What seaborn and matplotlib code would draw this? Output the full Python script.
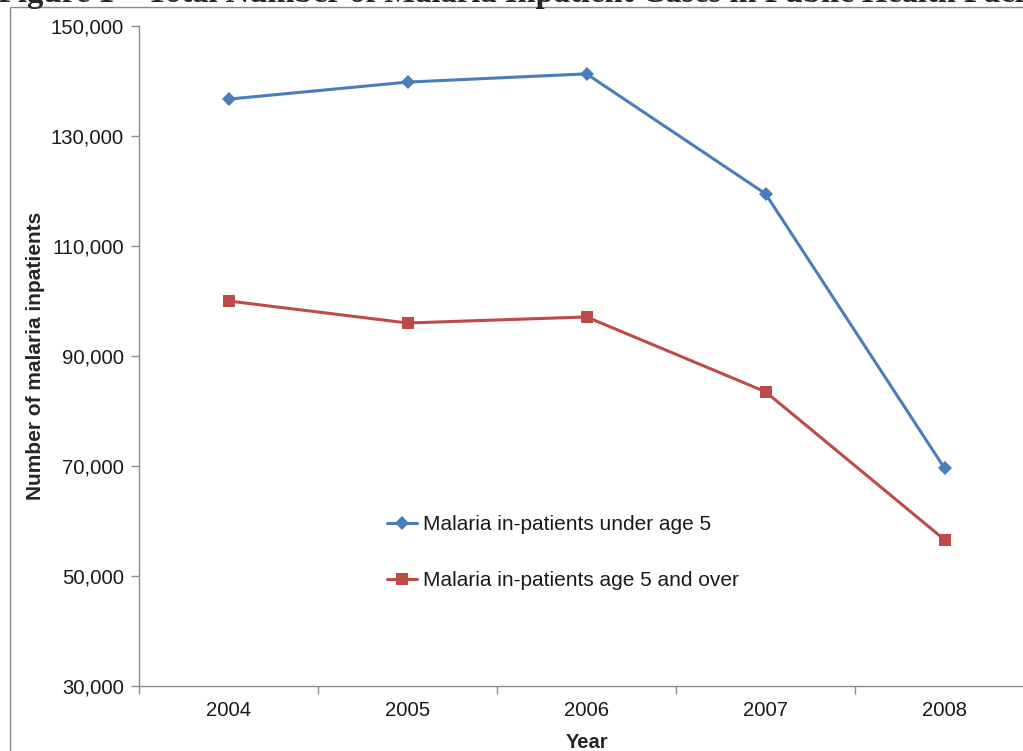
import matplotlib
matplotlib.use("Agg")
import matplotlib.pyplot as plt
import matplotlib.patches as mpatches
from matplotlib.ticker import FuncFormatter, FixedLocator
import seaborn as sns
import pandas as pd

years = ["2004", "2005", "2006", "2007", "2008"]
under5 = [136700, 139800, 141300, 119500, 69600]
over5 = [100000, 96000, 97100, 83500, 56600]
series_names = ["Malaria in-patients under age 5", "Malaria in-patients age 5 and over"]
yticks = [30000, 50000, 70000, 90000, 110000, 130000, 150000]
title_text = "Figure 1 \u2013 Total Number of Malaria Inpatient Cases in Public Health Facilities"

df = pd.DataFrame({
    "pos": list(range(len(years))) * 2,
    "value": under5 + over5,
    "series": [series_names[0]] * len(years) + [series_names[1]] * len(years),
})

sns.set_theme(style="white")
plt.rcParams["font.family"] = ["Liberation Sans", "DejaVu Sans"]

fig = plt.figure(figsize=(10.23, 7.51), dpi=100)
ax = fig.add_axes([139/1023, 1-686/751, (1034-139)/1023, (686-26)/751])

palette = {series_names[0]: "#4A7EBB", series_names[1]: "#BE4B48"}
markers = {series_names[0]: "D", series_names[1]: "s"}
sns.lineplot(data=df, x="pos", y="value", hue="series", style="series",
             palette=palette, markers=markers, dashes=False, linewidth=2.2,
             markersize=8, markeredgewidth=0, ax=ax)
for line in ax.lines:
    if line.get_marker() == "s":
        line.set_markersize(9)
    else:
        line.set_markersize(7.5)

ax.set_xlim(-0.5, len(years) - 0.5)
ax.set_ylim(yticks[0], yticks[-1])
ax.set_yticks(yticks)
ax.yaxis.set_major_formatter(FuncFormatter(lambda v, p: f"{int(v):,}"))
ax.set_xticks(range(len(years)))
ax.set_xticklabels(years)
ax.xaxis.set_minor_locator(FixedLocator([i - 0.5 for i in range(len(years) + 1)]))

for s in ["top", "right"]:
    ax.spines[s].set_visible(False)
for s in ["left", "bottom"]:
    ax.spines[s].set_color("#8c8c8c")
    ax.spines[s].set_linewidth(1.0)

ax.tick_params(axis="y", which="major", direction="out", length=6, width=1,
               color="#8c8c8c", labelsize=14.6, labelcolor="#1a1a1a", pad=5, left=True)
ax.tick_params(axis="x", which="major", length=0, labelsize=14.6, labelcolor="#1a1a1a", pad=11)
ax.tick_params(axis="x", which="minor", direction="out", length=6, width=1,
               color="#8c8c8c", bottom=True)

ax.set_xlabel("Year", fontsize=14.5, fontweight="bold", labelpad=9)
ax.set_ylabel("Number of malaria inpatients", fontsize=15, fontweight="bold", labelpad=4)

leg = ax.legend(loc="upper left", bbox_to_anchor=(0.268, 0.271), frameon=False,
                fontsize=15, handlelength=1.45, handletextpad=0.25, labelspacing=1.76,
                borderaxespad=0)
for t in leg.get_texts():
    t.set_color("#1a1a1a")

# chart-area border (partly cut off)
fig.patches.append(mpatches.Rectangle((10/1023, -0.2), 2.0, 1.2 - 7/751,
                                      transform=fig.transFigure, fill=False,
                                      edgecolor="#8c8c8c", linewidth=1.0, zorder=0))

fig.text(-0.002, 1 - 2/751, title_text, ha="left", va="baseline", fontsize=23.5,
         fontweight="bold", family=["Liberation Serif", "DejaVu Serif"])

fig.savefig("out.png", dpi=100)
